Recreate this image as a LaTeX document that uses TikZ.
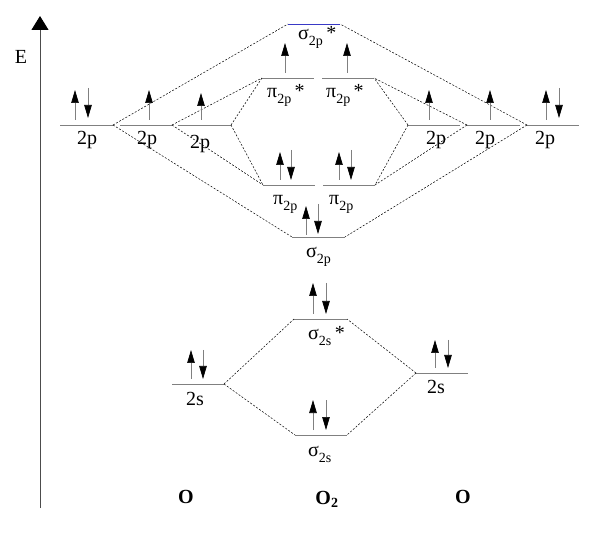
\documentclass[tikz,border=0pt]{standalone}
\usepackage{fontspec}
\setmainfont{Liberation Serif}
\usetikzlibrary{arrows.meta}
\newcommand{\orbital}[3]{#1\raisebox{-6pt}{\fontsize{14}{14}\selectfont #2}#3}

\begin{document}
\begin{tikzpicture}[x=1pt,y=-1pt,
    lvl/.style={draw=gray,line width=0.8pt},
    link/.style={draw=black,line width=0.5pt,dash pattern=on 2pt off 1.6pt},
    spin/.style={draw=gray,line width=0.7pt,-{Triangle[length=13pt,width=7.5pt,color=black]}},
    lbl/.style={font=\fontsize{20}{24}\selectfont,inner sep=0pt},
    atom/.style={font=\fontsize{20}{24}\selectfont\bfseries,inner sep=0pt}]
    \useasboundingbox (0,0) rectangle (600,537);
    \coordinate (ax0) at (40,508);
    \coordinate (ax1) at (40,16);
    \draw[draw=gray!60!black,line width=1pt,-{Triangle[length=14pt,width=17pt,color=black]}] (ax0) -- (ax1);
    \node[lbl] (e) at (21,57) {E};
    \coordinate (pa1w) at (60,125);  \coordinate (pa1e) at (113,125);
    \coordinate (pa2w) at (120,125); \coordinate (pa2e) at (172,125);
    \coordinate (pa3w) at (178,125); \coordinate (pa3e) at (231,125);
    \coordinate (pb1w) at (408,125); \coordinate (pb1e) at (460,125);
    \coordinate (pb2w) at (467,125); \coordinate (pb2e) at (520,125);
    \coordinate (pb3w) at (527,125); \coordinate (pb3e) at (579,125);
    \coordinate (sgsw) at (288,24);  \coordinate (sgse) at (340,24);
    \coordinate (pisaw) at (262,78); \coordinate (pisae) at (314,78);
    \coordinate (pisbw) at (322,78); \coordinate (pisbe) at (374,78);
    \coordinate (piaw) at (263,185); \coordinate (piae) at (315,185);
    \coordinate (pibw) at (323,185); \coordinate (pibe) at (375,185);
    \coordinate (sgw) at (292,237);  \coordinate (sge) at (345,237);
    \coordinate (ssw) at (294,319);  \coordinate (sse) at (347,319);
    \coordinate (saw) at (172,384);  \coordinate (sae) at (224,384);
    \coordinate (sbw) at (416,373);  \coordinate (sbe) at (468,373);
    \coordinate (sw) at (295,435);   \coordinate (se) at (347,435);
    \draw[lvl] (pa1w) -- (pa1e);
    \draw[lvl] (pa2w) -- (pa2e);
    \draw[lvl] (pa3w) -- (pa3e);
    \draw[lvl] (pb1w) -- (pb1e);
    \draw[lvl] (pb2w) -- (pb2e);
    \draw[lvl] (pb3w) -- (pb3e);
    \draw[lvl,draw=blue!55!gray] (sgsw) -- (sgse);
    \draw[lvl] (pisaw) -- (pisae);
    \draw[lvl] (pisbw) -- (pisbe);
    \draw[lvl] (piaw) -- (piae);
    \draw[lvl] (pibw) -- (pibe);
    \draw[lvl] (sgw) -- (sge);
    \draw[lvl] (ssw) -- (sse);
    \draw[lvl] (saw) -- (sae);
    \draw[lvl] (sbw) -- (sbe);
    \draw[lvl] (sw) -- (se);
    \draw[link] (pa1e) -- (sgsw);
    \draw[link] (pa1e) -- (sgw);
    \draw[link] (pa2e) -- (pisaw);
    \draw[link] (pa2e) -- (piaw);
    \draw[link] (pa3e) -- (pisaw);
    \draw[link] (pa3e) -- (piaw);
    \draw[link] (pb3w) -- (sgse);
    \draw[link] (pb3w) -- (sge);
    \draw[link] (pb1w) -- (pisbe);
    \draw[link] (pb1w) -- (pibe);
    \draw[link] (pb2w) -- (pisbe);
    \draw[link] (pb2w) -- (pibe);
    \draw[link] (sae) -- (ssw);
    \draw[link] (sae) -- (sw);
    \draw[link] (sbw) -- (sse);
    \draw[link] (sbw) -- (se);
    \draw[spin] (75,120) -- (75,90);
    \draw[spin] (88,88) -- (88,118);
    \draw[spin] (149,120) -- (149,90);
    \draw[spin] (201,120) -- (201,93);
    \draw[spin] (429,120) -- (429,90);
    \draw[spin] (490,120) -- (490,90);
    \draw[spin] (546,120) -- (546,90);
    \draw[spin] (559,88) -- (559,118);
    \draw[spin] (285,73) -- (285,43);
    \draw[spin] (347,73) -- (347,43);
    \draw[spin] (280,180) -- (280,152);
    \draw[spin] (291,150) -- (291,180);
    \draw[spin] (339,180) -- (339,152);
    \draw[spin] (351,150) -- (351,180);
    \draw[spin] (306,235) -- (306,206);
    \draw[spin] (318,204) -- (318,234);
    \draw[spin] (313,314) -- (313,283);
    \draw[spin] (326,283) -- (326,314);
    \draw[spin] (191,379) -- (191,350);
    \draw[spin] (203,350) -- (203,379);
    \draw[spin] (435,368) -- (435,340);
    \draw[spin] (448,340) -- (448,368);
    \draw[spin] (313,430) -- (313,400);
    \draw[spin] (326,400) -- (326,430);
    \node[lbl] (la1) at (87,140) {2p};
    \node[lbl] (la2) at (147,140) {2p};
    \node[lbl] (la3) at (200,144) {2p};
    \node[lbl] (lb1) at (436,140) {2p};
    \node[lbl] (lb2) at (485,140) {2p};
    \node[lbl] (lb3) at (545,140) {2p};
    \node[lbl,anchor=base west] (lsgs) at (298,40) {\orbital{σ}{2p}{\,*}};
    \node[lbl,anchor=base west] (lpisa) at (267,98) {\orbital{π}{2p}{\,*}};
    \node[lbl,anchor=base west] (lpisb) at (326,98) {\orbital{π}{2p}{\,*}};
    \node[lbl,anchor=base west] (lpia) at (273,205) {\orbital{π}{2p}{}};
    \node[lbl,anchor=base west] (lpib) at (329,205) {\orbital{π}{2p}{}};
    \node[lbl,anchor=base west] (lsg) at (306,258) {\orbital{σ}{2p}{}};
    \node[lbl,anchor=base west] (lss) at (308,340) {\orbital{σ}{2s}{\,*}};
    \node[lbl] (lsa) at (195,399) {2s};
    \node[lbl] (lsb) at (436,387) {2s};
    \node[lbl,anchor=base west] (ls) at (308,456) {\orbital{σ}{2s}{}};
    \node[atom] (oa) at (186,497) {O};
    \node[atom] (oo) at (327,499) {O\textsubscript{2}};
    \node[atom] (ob) at (463,497) {O};
\end{tikzpicture}
\end{document}
